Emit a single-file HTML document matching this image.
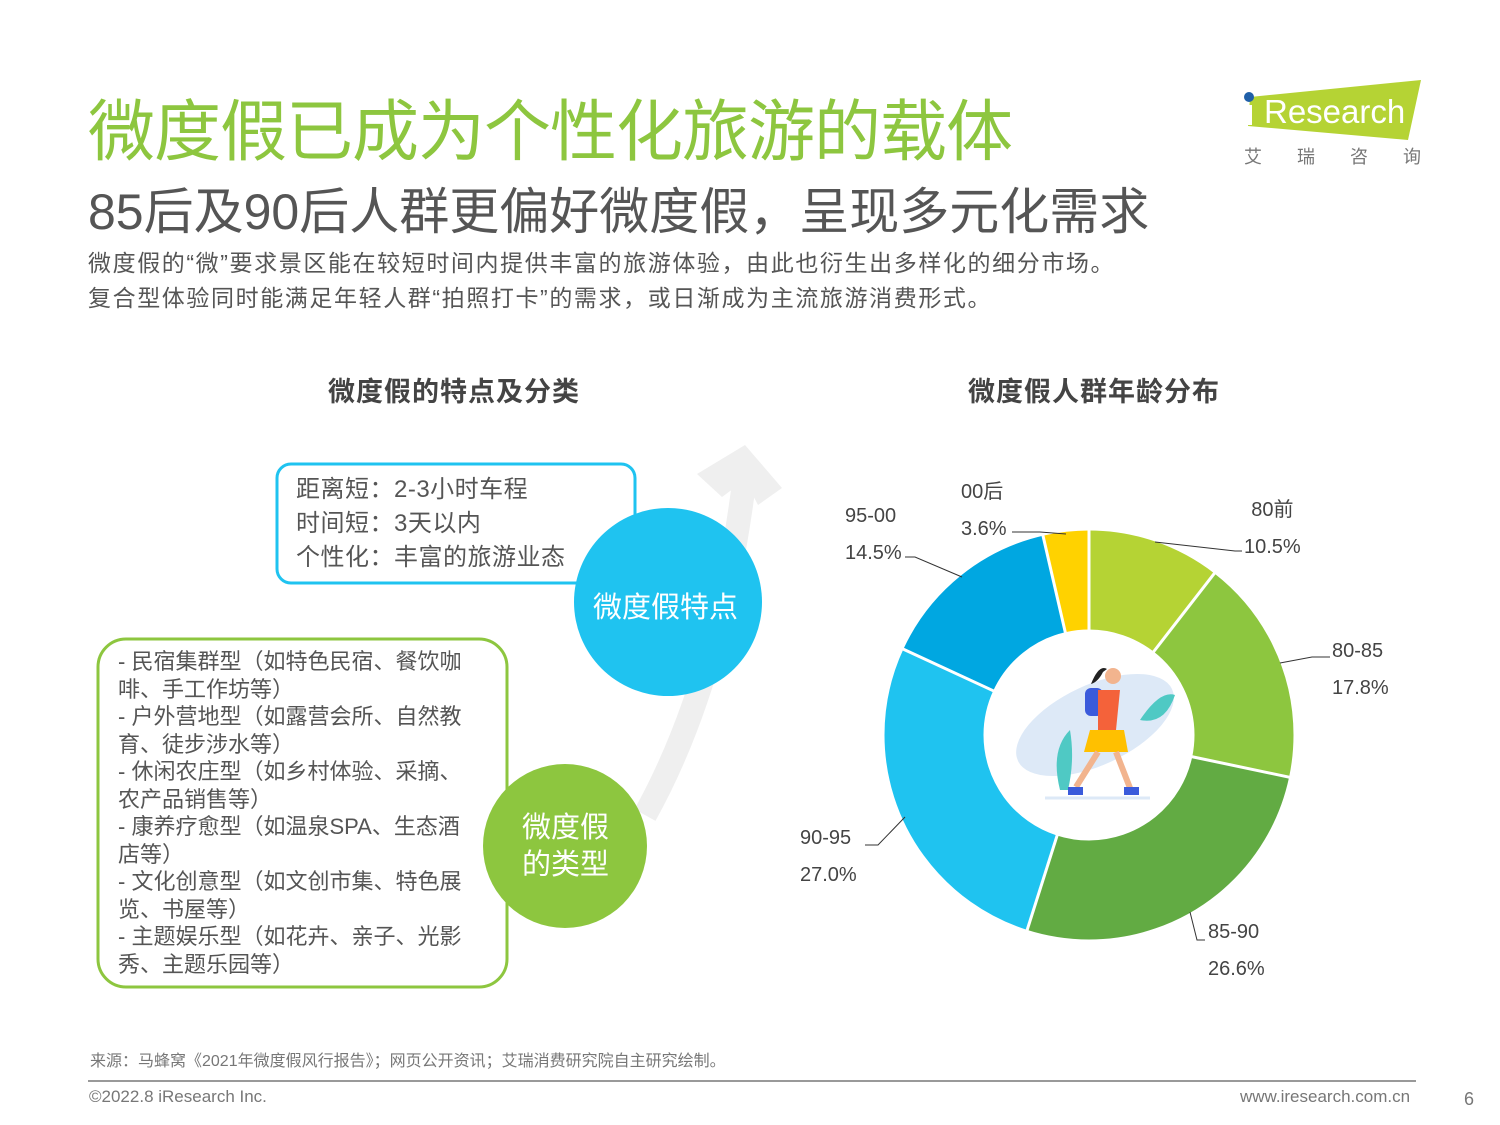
<!DOCTYPE html>
<html><head><meta charset="utf-8">
<style>
body{margin:0;width:1500px;height:1125px;background:#fff;position:relative;overflow:hidden;font-family:"Liberation Sans","Noto Sans CJK SC",sans-serif;}
.a{position:absolute;white-space:nowrap;}
</style></head><body>
<div class="a" style="left:88px;top:78px;font-size:67px;color:#8dc63f;letter-spacing:-1px;">微度假已成为个性化旅游的载体</div>
<div class="a" style="left:88px;top:172px;font-size:50px;color:#555;">85后及90后人群更偏好微度假，呈现多元化需求</div>
<div class="a" style="left:88px;top:246px;font-size:23px;color:#555;line-height:35px;letter-spacing:1.6px;">微度假的“微”要求景区能在较短时间内提供丰富的旅游体验，由此也衍生出多样化的细分市场。<br>复合型体验同时能满足年轻人群“拍照打卡”的需求，或日渐成为主流旅游消费形式。</div>
<div class="a" style="left:328px;top:370px;font-size:27px;font-weight:bold;color:#444;letter-spacing:1px;">微度假的特点及分类</div>
<div class="a" style="left:968px;top:370px;font-size:27px;font-weight:bold;color:#444;letter-spacing:1px;">微度假人群年龄分布</div>

<svg class="a" style="left:0;top:0" width="1500" height="1125">
<polygon points="1250,97 1421,80 1408,140 1248,126" fill="#b5d334"/>
<rect x="1245" y="105" width="7" height="20" fill="#fff"/>
<circle cx="1249" cy="97" r="5" fill="#1f5fa8"/>
<text x="1264" y="123" font-size="33" fill="#fff" font-family="Liberation Sans">Research</text>
<text x="1244" y="163" font-size="18" fill="#777" font-family="Noto Sans CJK SC">艾</text>
<text x="1297" y="163" font-size="18" fill="#777" font-family="Noto Sans CJK SC">瑞</text>
<text x="1350" y="163" font-size="18" fill="#777" font-family="Noto Sans CJK SC">咨</text>
<text x="1403" y="163" font-size="18" fill="#777" font-family="Noto Sans CJK SC">询</text>
<path d="M645,815 Q720,680 745,475" stroke="#efefef" stroke-width="24" fill="none"/>
<polygon points="745,445 782,488 758,505 745,480 722,497 697,474" fill="#efefef"/>
<rect x="277" y="464" width="358" height="119" rx="14" fill="#fff" stroke="#1fc3f0" stroke-width="3"/>
<rect x="98" y="639" width="409" height="348" rx="28" fill="#fff" stroke="#8dc63f" stroke-width="3"/>
<circle cx="668" cy="602" r="94" fill="#1fc3f0"/>
<circle cx="565" cy="846" r="82" fill="#8dc63f"/>
<g transform="translate(1089,735) rotate(-90)" fill="none" stroke-width="99">
<circle r="155" stroke="#b5d334" stroke-dasharray="102.3 1000" stroke-dashoffset="0"/>
<circle r="155" stroke="#8dc63f" stroke-dasharray="173.4 1000" stroke-dashoffset="-102.3"/>
<circle r="155" stroke="#62ab43" stroke-dasharray="259.1 1000" stroke-dashoffset="-275.7"/>
<circle r="155" stroke="#1fc3f0" stroke-dasharray="263 1000" stroke-dashoffset="-534.8"/>
<circle r="155" stroke="#00a7e1" stroke-dasharray="141.2 1000" stroke-dashoffset="-797.8"/>
<circle r="155" stroke="#ffd200" stroke-dasharray="35.1 1000" stroke-dashoffset="-939"/>
<g stroke="#fff" stroke-width="3">
<line x1="100" y1="0" x2="210" y2="0" transform="rotate(0)"/>
<line x1="100" y1="0" x2="210" y2="0" transform="rotate(37.8)"/>
<line x1="100" y1="0" x2="210" y2="0" transform="rotate(101.9)"/>
<line x1="100" y1="0" x2="210" y2="0" transform="rotate(197.6)"/>
<line x1="100" y1="0" x2="210" y2="0" transform="rotate(294.8)"/>
<line x1="100" y1="0" x2="210" y2="0" transform="rotate(347)"/>
</g>
</g>
<ellipse cx="1095" cy="725" rx="85" ry="40" fill="#dde9f7" transform="rotate(-25 1095 725)"/>
<path d="M1060,790 q-10,-40 10,-60 q5,30 -2,60z" fill="#4fc9c4"/>
<path d="M1140,720 q20,-30 35,-25 q-10,30 -35,25z" fill="#4fc9c4"/>
<circle cx="1113" cy="676" r="8" fill="#f2b48e"/>
<path d="M1103,672 q-5,10 -12,12 q8,-20 16,-15z" fill="#222"/>
<rect x="1085" y="688" width="18" height="28" rx="6" fill="#3b5bdb"/>
<path d="M1098,690 h22 l-4,40 h-18z" fill="#f4623a"/>
<path d="M1090,730 h34 l4,22 h-44z" fill="#ffc000"/>
<path d="M1098,752 l-22,35 M1116,752 l14,36" stroke="#f2b48e" stroke-width="6"/>
<path d="M1068,787 h15 v8 h-15z M1124,787 h15 v8 h-15z" fill="#3b5bdb"/>
<line x1="1045" y1="798" x2="1150" y2="798" stroke="#dde9f7" stroke-width="3"/>
<g stroke="#333" stroke-width="1" fill="none">
<polyline points="1155,542 1235,551 1242,551"/>
<polyline points="1280,663 1312,657 1330,657"/>
<polyline points="1190,912 1197,940 1205,940"/>
<polyline points="905,817 878,845 865,845"/>
<polyline points="962,577 915,557 905,557"/>
<polyline points="1066,534 1040,532 1012,532"/>
</g>
</svg>

<div class="a" style="left:296px;top:473px;font-size:24px;color:#555;line-height:34px;letter-spacing:0.5px;">距离短：2-3小时车程<br>时间短：3天以内<br>个性化：丰富的旅游业态</div>
<div class="a" style="left:118px;top:648px;font-size:22px;color:#555;line-height:27.5px;">- 民宿集群型（如特色民宿、餐饮咖<br>啡、手工作坊等）<br>- 户外营地型（如露营会所、自然教<br>育、徒步涉水等）<br>- 休闲农庄型（如乡村体验、采摘、<br>农产品销售等）<br>- 康养疗愈型（如温泉SPA、生态酒<br>店等）<br>- 文化创意型（如文创市集、特色展<br>览、书屋等）<br>- 主题娱乐型（如花卉、亲子、光影<br>秀、主题乐园等）</div>
<div class="a" style="left:593px;top:584px;font-size:29px;color:#fff;">微度假特点</div>
<div class="a" style="left:522px;top:810px;font-size:29px;color:#fff;line-height:37px;">微度假<br>的类型</div>

<div class="a" style="left:961px;top:474px;font-size:20px;color:#444;line-height:37px;">00后<br>3.6%</div>
<div class="a" style="left:845px;top:498px;font-size:20px;color:#444;line-height:37px;">95-00<br>14.5%</div>
<div class="a" style="left:1244px;top:492px;font-size:20px;color:#444;line-height:37px;text-align:center;">80前<br>10.5%</div>
<div class="a" style="left:1332px;top:633px;font-size:20px;color:#444;line-height:37px;">80-85<br>17.8%</div>
<div class="a" style="left:1208px;top:914px;font-size:20px;color:#444;line-height:37px;">85-90<br>26.6%</div>
<div class="a" style="left:800px;top:820px;font-size:20px;color:#444;line-height:37px;">90-95<br>27.0%</div>

<div class="a" style="left:90px;top:1047px;font-size:16px;color:#777;">来源：马蜂窝《2021年微度假风行报告》；网页公开资讯；艾瑞消费研究院自主研究绘制。</div>
<div class="a" style="left:88px;top:1080px;width:1328px;height:2px;background:#999;"></div>
<div class="a" style="left:89px;top:1087px;font-size:17px;color:#777;">©2022.8 iResearch Inc.</div>
<div class="a" style="left:1240px;top:1087px;font-size:17px;color:#777;">www.iresearch.com.cn</div>
<div class="a" style="left:1464px;top:1089px;font-size:18px;color:#777;">6</div>
</body></html>
